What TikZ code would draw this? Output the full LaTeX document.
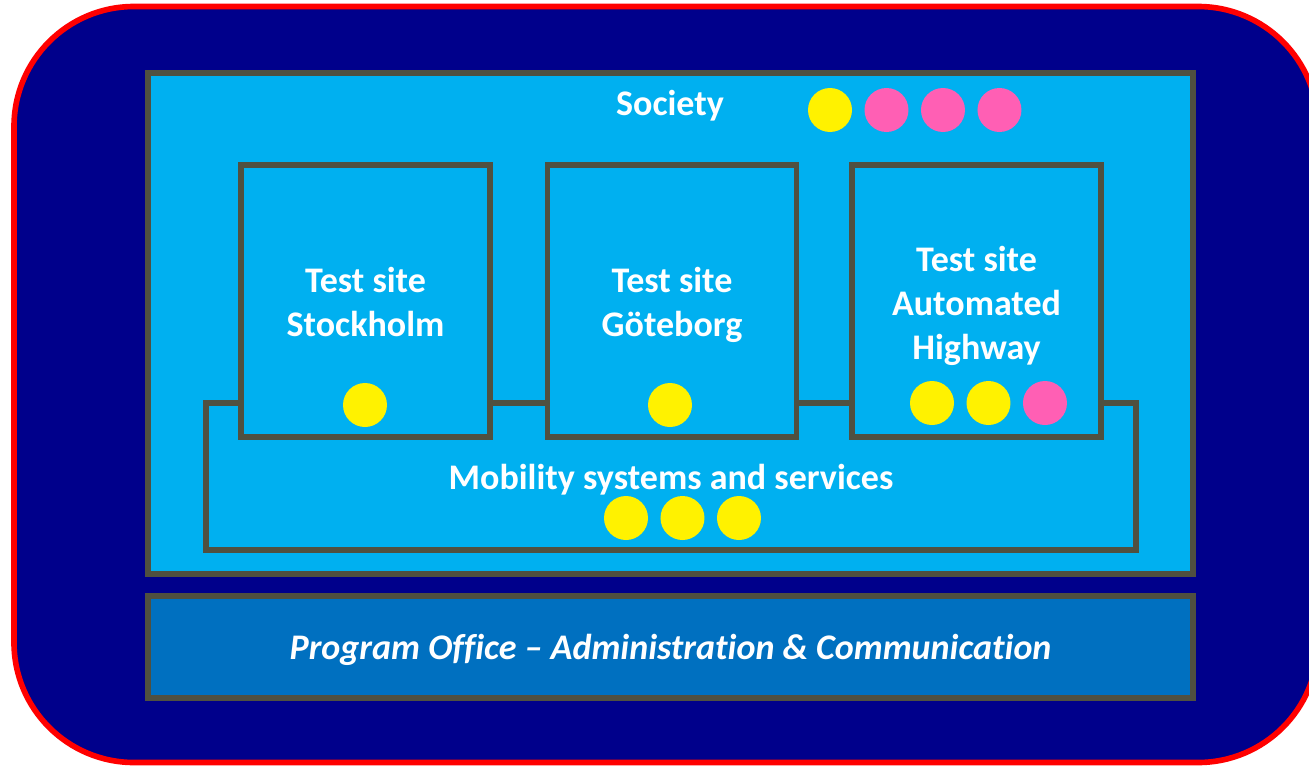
\documentclass[tikz,border=0pt]{standalone}
\usepackage{fontspec}
\setmainfont[Ligatures=NoCommon]{Carlito}
\definecolor{navy}{RGB}{0,0,139}
\definecolor{sky}{RGB}{0,176,240}
\definecolor{office}{RGB}{0,112,192}
\definecolor{frame}{RGB}{80,80,64}
\definecolor{dotpink}{RGB}{255,95,180}
\tikzset{
  box/.style={draw=frame,line width=3pt,fill=sky,rectangle,inner sep=0pt},
  lbl/.style={text=white,font=\fontsize{20.5}{24.9}\selectfont\bfseries,inner sep=0pt,align=center},
  dot/.style={circle,minimum size=0.88cm,inner sep=0pt},
  ydot/.style={dot,fill=yellow},
  pdot/.style={dot,fill=dotpink}
}
\begin{document}
\begin{tikzpicture}[x=0.02cm,y=-0.02cm,node distance=1.13cm]
  \useasboundingbox (0,0) rectangle (1309,768);
  \draw[red,line width=3.2pt,fill=navy,rounded corners=2.4cm] (14,6.5) rectangle (1318,762.5);

  \node [box,minimum width=20.9cm,minimum height=10.02cm] (society) at (670.5,323.5) {};
  \node [lbl] (societytext) at (670,106) {Society};
  \node [box,fill=office,minimum width=20.9cm,minimum height=2.04cm] (office) at (670.5,647) {};
  \node [lbl,font=\fontsize{20.5}{24.9}\selectfont\bfseries\itshape,text depth=0pt] (officetext)
    at (670.5,647) {Program Office -- Administration \& Communication};

  \node [box,minimum width=18.6cm,minimum height=2.94cm] (mobility) at (671,476.5) {};
  \node [lbl] (mobilitytext) at (671,480) {Mobility systems and services};

  \node [box,minimum width=4.98cm,minimum height=5.44cm] (sthlm) at (365.5,301) {};
  \node [box,minimum width=4.98cm,minimum height=5.44cm] (gbg) at (672,301) {};
  \node [box,minimum width=4.98cm,minimum height=5.44cm] (highway) at (976.5,301) {};
  \node [lbl] (sthlmtext) at (365.5,305) {Test site\\Stockholm\vphantom{g}};
  \node [lbl] (gbgtext) at (672,305) {Test site\\Göteborg};
  \node [lbl] (highwaytext) at (976.5,306) {Test site\\Automated\\Highway};

  % dots
  \node [ydot] (s1) at (830,110) {};
  \node [pdot,right of=s1] (s2) {};
  \node [pdot,right of=s2] (s3) {};
  \node [pdot,right of=s3] (s4) {};

  \node [ydot] (st1) at (365,405) {};
  \node [ydot] (g1) at (670,405) {};

  \node [ydot] (h1) at (932,403) {};
  \node [ydot,right of=h1] (h2) {};
  \node [pdot,right of=h2] (h3) {};

  \node [ydot] (m1) at (626,518) {};
  \node [ydot,right of=m1] (m2) {};
  \node [ydot,right of=m2] (m3) {};
\end{tikzpicture}
\end{document}
